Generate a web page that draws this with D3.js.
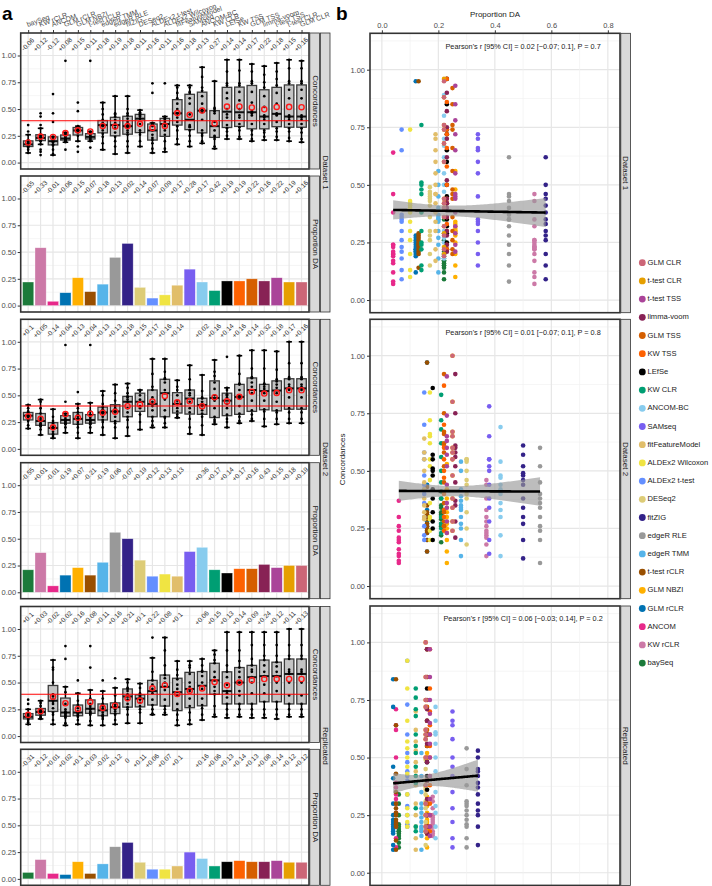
<!DOCTYPE html>
<html><head><meta charset="utf-8">
<script src="https://cdn.jsdelivr.net/npm/d3@7"></script>
<style>body{margin:0;background:#fff}</style>
</head><body><svg id="c" width="712" height="886"></svg>
<script>
const methods = ["baySeq","KW rCLR","ANCOM","GLM rCLR","GLM NBZI","t-test rCLR","edgeR TMM","edgeR RLE","fitZIG","DESeq2","ALDEx2 t-test","ALDEx2 Wilcoxon","fitFeatureModel","SAMseq","ANCOM-BC","KW CLR","LEfSe","KW TSS","GLM TSS","limma-voom","t-test TSS","t-test CLR","GLM CLR"];
const colors = ["#1b7a3a","#cc79a7","#e7298a","#0072b2","#ffb000","#994f00","#56b4e9","#999999","#332288","#ddcc77","#648fff","#f0e442","#e1be6a","#785ef0","#88ccee","#009e73","#000000","#fe6100","#d55e00","#882255","#aa4499","#e69f00","#cc6677"];
const datasets = ["Dataset 1","Dataset 2","Replicated"];

const propDA_ds1 = [0.22,0.54,0.04,0.12,0.26,0.13,0.20,0.45,0.58,0.17,0.07,0.10,0.19,0.34,0.22,0.14,0.23,0.23,0.25,0.23,0.26,0.22,0.22];
const propDA_ds2 = [0.21,0.37,0.06,0.16,0.23,0.16,0.28,0.56,0.50,0.30,0.15,0.17,0.15,0.38,0.42,0.21,0.18,0.22,0.22,0.26,0.23,0.25,0.25];
const propDA_rep = [0.06,0.18,0.05,0.04,0.16,0.05,0.14,0.30,0.34,0.155,0.09,0.09,0.12,0.25,0.19,0.12,0.16,0.17,0.16,0.16,0.17,0.155,0.155];

const conc_ds1 = [
[0.09,0.12,0.14,0.15,0.15,0.16,0.17,0.17,0.17,0.18,0.19,0.2,0.21,0.26,0.29,0.35],
[0.07,0.1,0.12,0.17,0.2,0.22,0.22,0.23,0.23,0.23,0.24,0.25,0.26,0.26,0.32,0.35,0.43,0.46],
[0.07,0.08,0.12,0.16,0.17,0.19,0.2,0.2,0.21,0.23,0.24,0.24,0.38,0.46,0.64],
[0.12,0.19,0.2,0.21,0.21,0.22,0.22,0.23,0.24,0.25,0.26,0.27,0.28,0.95],
[0.1,0.15,0.2,0.25,0.28,0.29,0.3,0.3,0.31,0.32,0.33,0.34,0.48,0.56],
[0.14,0.2,0.21,0.22,0.23,0.24,0.24,0.25,0.26,0.27,0.28,0.29,0.95],
[0.12,0.18,0.24,0.27,0.3,0.34,0.35,0.35,0.36,0.37,0.4,0.45,0.5,0.56],
[0.08,0.15,0.2,0.24,0.28,0.32,0.35,0.35,0.37,0.4,0.43,0.45,0.46,0.62],
[0.09,0.15,0.2,0.26,0.28,0.3,0.33,0.35,0.38,0.41,0.44,0.46,0.5,0.62],
[0.15,0.2,0.26,0.28,0.3,0.36,0.41,0.43,0.44,0.45,0.46,0.47,0.49],
[0.09,0.13,0.18,0.21,0.23,0.26,0.3,0.34,0.35,0.36,0.37,0.65,0.74],
[0.1,0.13,0.2,0.26,0.3,0.34,0.38,0.4,0.41,0.42,0.43,0.74],
[0.17,0.22,0.3,0.34,0.38,0.42,0.46,0.46,0.5,0.55,0.6,0.65,0.7,0.72],
[0.15,0.2,0.25,0.3,0.33,0.34,0.35,0.45,0.55,0.6,0.65,0.66,0.7,0.72],
[0.18,0.2,0.25,0.27,0.3,0.4,0.47,0.5,0.55,0.62,0.67,0.7,0.8,0.89],
[0.13,0.15,0.22,0.24,0.25,0.3,0.38,0.46,0.48,0.5,0.51,0.76],
[0.22,0.25,0.29,0.32,0.35,0.42,0.45,0.5,0.6,0.65,0.72,0.74,0.85,0.96],
[0.22,0.24,0.3,0.33,0.36,0.42,0.44,0.5,0.58,0.66,0.72,0.74,0.86,0.96],
[0.2,0.22,0.26,0.3,0.36,0.44,0.46,0.48,0.56,0.66,0.74,0.76,0.85,0.92],
[0.21,0.24,0.28,0.3,0.36,0.4,0.42,0.44,0.52,0.62,0.7,0.75,0.82,0.9],
[0.21,0.24,0.29,0.32,0.38,0.44,0.45,0.46,0.55,0.65,0.72,0.78,0.85,0.93],
[0.2,0.23,0.29,0.32,0.36,0.4,0.42,0.44,0.6,0.68,0.74,0.76,0.88,0.96],
[0.19,0.22,0.28,0.32,0.36,0.4,0.42,0.44,0.6,0.68,0.74,0.76,0.88,0.95]
];
const conc_ds2 = [
[0.19,0.22,0.26,0.27,0.29,0.3,0.31,0.31,0.32,0.34,0.35,0.38,0.41],
[0.13,0.18,0.21,0.22,0.23,0.24,0.26,0.28,0.3,0.33,0.38,0.44,0.46],
[0.1,0.11,0.13,0.14,0.16,0.19,0.2,0.21,0.24,0.26,0.3,0.37],
[0.15,0.2,0.23,0.24,0.25,0.26,0.27,0.28,0.3,0.31,0.33,0.44,0.97],
[0.1,0.15,0.2,0.23,0.25,0.27,0.28,0.3,0.32,0.34,0.38,0.42,0.53],
[0.15,0.2,0.23,0.24,0.25,0.26,0.27,0.29,0.31,0.32,0.35,0.43,0.97],
[0.13,0.2,0.25,0.27,0.3,0.33,0.34,0.35,0.37,0.39,0.42,0.5,0.54],
[0.1,0.2,0.24,0.26,0.3,0.34,0.36,0.38,0.4,0.45,0.52,0.6],
[0.12,0.2,0.27,0.3,0.34,0.38,0.44,0.46,0.48,0.49,0.52,0.57,0.61],
[0.18,0.25,0.32,0.38,0.4,0.44,0.46,0.5,0.54,0.55,0.55],
[0.2,0.22,0.26,0.3,0.36,0.4,0.42,0.44,0.48,0.55,0.58,0.7,0.84],
[0.2,0.24,0.29,0.3,0.36,0.46,0.52,0.55,0.62,0.65,0.66,0.72,0.84],
[0.29,0.3,0.32,0.35,0.38,0.42,0.45,0.5,0.55,0.58,0.64],
[0.14,0.2,0.28,0.34,0.38,0.44,0.5,0.52,0.55,0.55,0.65,0.78],
[0.13,0.22,0.3,0.33,0.36,0.4,0.42,0.44,0.47,0.48,0.54,0.69],
[0.23,0.25,0.27,0.3,0.38,0.45,0.5,0.56,0.62,0.68,0.72,0.83],
[0.2,0.25,0.28,0.32,0.38,0.42,0.48,0.5,0.51,0.55,0.57,0.86],
[0.24,0.26,0.3,0.33,0.4,0.47,0.5,0.55,0.6,0.61,0.7,0.87],
[0.26,0.28,0.32,0.36,0.45,0.52,0.58,0.62,0.66,0.67,0.75,0.92],
[0.21,0.28,0.35,0.37,0.45,0.52,0.56,0.58,0.6,0.61,0.75,0.92],
[0.23,0.28,0.34,0.36,0.44,0.52,0.57,0.6,0.63,0.65,0.74,0.91],
[0.24,0.28,0.34,0.38,0.48,0.55,0.58,0.6,0.65,0.67,0.8,1.0],
[0.24,0.28,0.34,0.38,0.48,0.55,0.58,0.6,0.65,0.67,0.8,1.0]
];
const conc_rep = [
[0.11,0.13,0.15,0.16,0.17,0.18,0.18,0.19,0.2,0.21,0.25,0.3,0.34],
[0.16,0.17,0.18,0.2,0.21,0.22,0.23,0.24,0.25,0.28,0.31,0.33],
[0.11,0.15,0.2,0.22,0.26,0.3,0.32,0.34,0.37,0.39,0.5,0.62,0.64,0.71],
[0.1,0.12,0.17,0.18,0.19,0.2,0.21,0.22,0.23,0.25,0.3,0.41,0.46,0.72,0.84],
[0.11,0.15,0.18,0.19,0.2,0.21,0.22,0.23,0.26,0.29,0.33,0.4,0.52],
[0.1,0.14,0.2,0.21,0.22,0.23,0.25,0.26,0.28,0.3,0.35,0.43,0.64,0.84],
[0.1,0.16,0.18,0.19,0.2,0.22,0.24,0.26,0.28,0.3,0.35,0.42,0.52],
[0.11,0.15,0.2,0.21,0.23,0.25,0.27,0.29,0.3,0.31,0.38,0.45,0.54],
[0.12,0.2,0.25,0.27,0.3,0.34,0.37,0.39,0.42,0.44,0.45,0.5,0.53],
[0.12,0.22,0.25,0.28,0.31,0.34,0.36,0.37,0.38,0.4,0.45,0.49],
[0.2,0.21,0.25,0.29,0.34,0.4,0.42,0.44,0.48,0.52,0.6,0.73,0.92],
[0.2,0.22,0.25,0.28,0.34,0.43,0.46,0.5,0.54,0.57,0.66,0.8,0.92],
[0.1,0.15,0.2,0.25,0.3,0.38,0.44,0.48,0.53,0.57,0.62,0.7],
[0.11,0.15,0.22,0.28,0.35,0.42,0.46,0.5,0.58,0.64,0.66,0.7],
[0.15,0.2,0.26,0.29,0.35,0.44,0.5,0.56,0.6,0.61,0.66,0.72],
[0.18,0.2,0.28,0.39,0.42,0.46,0.52,0.55,0.6,0.68,0.71,0.76,0.8],
[0.17,0.2,0.25,0.3,0.36,0.4,0.42,0.48,0.55,0.6,0.66,0.8,0.97],
[0.18,0.2,0.25,0.3,0.38,0.42,0.5,0.55,0.6,0.64,0.7,0.8,0.97],
[0.17,0.2,0.25,0.3,0.4,0.5,0.55,0.6,0.62,0.66,0.72,0.85,0.97],
[0.17,0.2,0.25,0.32,0.4,0.48,0.56,0.6,0.66,0.71,0.75,0.85,0.97],
[0.16,0.2,0.25,0.32,0.42,0.5,0.56,0.6,0.65,0.69,0.75,0.85,0.97],
[0.18,0.2,0.25,0.3,0.38,0.5,0.58,0.6,0.62,0.72,0.75,0.85,1.0],
[0.18,0.2,0.25,0.3,0.38,0.5,0.58,0.6,0.62,0.72,0.75,0.85,1.0]
];

const corrConc_ds1 = ["-0.06","+0.12","-0.12","+0.08","+0.15","+0.11","+0.18","+0.19","+0.18","+0.11","+0.16","+0.11","+0.16","+0.18","+0.13","-0.27","+0.14","+0.14","+0.17","+0.22","+0.18","+0.15","+0.16"];
const corrProp_ds1 = ["-0.55","+0.33","-0.01","+0.06","+0.15","+0.07","+0.18","+0.13","+0.02","+0.14","+0.07","+0.09","+0.17","+0.28","+0.17","-0.42","+0.19","+0.19","+0.22","+0.16","+0.22","+0.19","+0.16"];
const corrConc_ds2 = ["+0.1","+0.05","-0.14","+0.04","+0.13","+0.04","+0.13","+0.13","+0.18","+0.15","+0.17","+0.16","+0.14","","+0.02","+0.16","+0.14","+0.16","+0.14","+0.32","+0.18","+0.17","+0.16"];
const corrProp_ds2 = ["-0.55","+0.01","-0.01","-0.19","+0.07","-0.21","-0.19","-0.06","-0.07","+0.19","+0.12","+0.13","+0.13","","+0.36","+0.17","+0.14","+0.17","+0.16","-0.43","+0.15","+0.18","+0.19"];
const corrConc_rep = ["+0.1","+0.03","-0.02","+0.02","+0.16","+0.08","+0.11","+0.16","+0.21","+0.1","+0.22","+0.08","+0.1","","+0.06","+0.15","+0.13","+0.14","+0.09","+0.24","+0.12","+0.11","+0.13"];
const corrProp_rep = ["-0.31","+0.12","+0.01","+0.02","+0.1","+0.03","-0.02","+0.12","0","+0.11","+0.06","+0.07","+0.1","","+0.16","+0.06","+0.13","+0.14","+0.13","+0.08","+0.14","+0.12","+0.12"];

const refLine = [0.39, 0.40, 0.39];
const pearsonText = ["Pearson's r [95% CI] = 0.02 [\u22120.07; 0.1], P = 0.7","Pearson's r [95% CI] = 0.01 [\u22120.07; 0.1], P = 0.8","Pearson's r [95% CI] = 0.06 [\u22120.03; 0.14], P = 0.2"];
const yTicks = [0, 0.25, 0.5, 0.75, 1];
const yMinor = [0.125, 0.375, 0.625, 0.875, 1.125];
const xTicksB = [0, 0.2, 0.4, 0.6, 0.8];
const xMinorB = [0.1, 0.3, 0.5, 0.7];

const props = [propDA_ds1, propDA_ds2, propDA_rep];
const concs = [conc_ds1, conc_ds2, conc_rep];
const corrC = [corrConc_ds1, corrConc_ds2, corrConc_rep];
const corrP = [corrProp_ds1, corrProp_ds2, corrProp_rep];

const FONT = "'Liberation Sans', Arial, Helvetica, sans-serif";
const svg = d3.select("#c").style("font-family", FONT);
const colorOf = d3.scaleOrdinal().domain(methods).range(colors);

// ---------- panel a ----------
const aLeft = 20.7, aRight = 309, aH = 136;
const ax = d3.scalePoint().domain(methods).range([aLeft + 0.6*12.43, aRight - 0.6*12.43]);
const step = ax.step();
const concTops = [33, 319.3, 606.5];
const propTops = [176, 462.7, 749.3];

function styleAxis(g){
  g.select(".domain").remove();
  g.selectAll(".tick line").attr("stroke","#333").attr("stroke-width",1);
  g.selectAll(".tick text").attr("fill","#4d4d4d").style("font-size","7.5px").style("font-family",FONT);
}

function panelA(top, kind, d){
  const y = d3.scaleLinear().domain([-0.06, 1.21]).range([top + aH, top]);
  const g = svg.append("g");
  g.append("rect").attr("x",aLeft).attr("y",top).attr("width",aRight-aLeft).attr("height",aH).attr("fill","#fff");
  g.selectAll(".hm").data(yMinor).join("line").attr("x1",aLeft).attr("x2",aRight)
    .attr("y1",v=>y(v)).attr("y2",v=>y(v)).attr("stroke","#f0f0f0").attr("stroke-width",0.7);
  g.selectAll(".hM").data(yTicks).join("line").attr("x1",aLeft).attr("x2",aRight)
    .attr("y1",v=>y(v)).attr("y2",v=>y(v)).attr("stroke","#e6e6e6").attr("stroke-width",1.2);
  g.selectAll(".vM").data(methods).join("line").attr("x1",m=>ax(m)).attr("x2",m=>ax(m))
    .attr("y1",top).attr("y2",top+aH).attr("stroke","#e6e6e6").attr("stroke-width",1.2);

  if(kind === "conc"){
    const data = concs[d];
    methods.forEach((m,i)=>{
      const v = data[i].slice().sort(d3.ascending);
      const q1 = d3.quantile(v,0.25), med = d3.quantile(v,0.5), q3 = d3.quantile(v,0.75);
      const iqr = q3 - q1;
      const lo = d3.min(v.filter(t=>t >= q1 - 1.5*iqr));
      const hi = d3.max(v.filter(t=>t <= q3 + 1.5*iqr));
      const cx = ax(m), bw = 9.5;
      g.append("line").attr("x1",cx).attr("x2",cx).attr("y1",y(hi)).attr("y2",y(q3)).attr("stroke","#000").attr("stroke-width",1.5);
      g.append("line").attr("x1",cx).attr("x2",cx).attr("y1",y(q1)).attr("y2",y(lo)).attr("stroke","#000").attr("stroke-width",1.5);
      [lo,hi].forEach(t=>g.append("line").attr("x1",cx-2.8).attr("x2",cx+2.8).attr("y1",y(t)).attr("y2",y(t)).attr("stroke","#000").attr("stroke-width",1.6));
      g.append("rect").attr("x",cx-bw/2).attr("y",y(q3)).attr("width",bw).attr("height",Math.max(0.5,y(q1)-y(q3)))
        .attr("fill","#c4c4c4").attr("stroke","#3a3a3a").attr("stroke-width",1.3);
      g.append("line").attr("x1",cx-bw/2).attr("x2",cx+bw/2).attr("y1",y(med)).attr("y2",y(med)).attr("stroke","#111").attr("stroke-width",2);
      g.selectAll(null).data(v).join("circle").attr("cx",cx).attr("cy",t=>y(t)).attr("r",1.35).attr("fill","#000");
    });
    g.append("line").attr("x1",aLeft).attr("x2",aRight).attr("y1",y(refLine[d])).attr("y2",y(refLine[d])).attr("stroke","#ff0000").attr("stroke-width",1.1);
    methods.forEach((m,i)=>{
      g.append("circle").attr("cx",ax(m)).attr("cy",y(d3.mean(data[i]))).attr("r",2.6)
        .attr("fill","none").attr("stroke","#ff1a1a").attr("stroke-width",1.4);
    });
  } else {
    const p = props[d];
    g.selectAll(".bar").data(methods).join("rect")
      .attr("x",m=>ax(m)-step*0.45).attr("width",step*0.9)
      .attr("y",(m,i)=>y(p[i])).attr("height",(m,i)=>y(0)-y(p[i]))
      .attr("fill",m=>colorOf(m)).attr("stroke","#ffffff").attr("stroke-opacity",0.55).attr("stroke-width",0.6);
  }
  const labs = kind === "conc" ? corrC[d] : corrP[d];
  g.selectAll(".cl").data(methods).join("text")
    .attr("transform",(m)=>`translate(${ax(m)},${y(1.1)}) rotate(-45)`)
    .attr("text-anchor","middle").attr("dominant-baseline","middle")
    .style("font-size","6.6px").attr("fill","#333").text((m,i)=>labs[i]);
  g.append("rect").attr("x",aLeft).attr("y",top).attr("width",aRight-aLeft).attr("height",aH)
    .attr("fill","none").attr("stroke","#333").attr("stroke-width",1.6);
  const ya = g.append("g").attr("transform",`translate(${aLeft},0)`)
    .call(d3.axisLeft(y).tickValues(yTicks).tickFormat(d3.format(".2f")).tickSize(3).tickPadding(1.5));
  styleAxis(ya);
  // inner strip
  g.append("rect").attr("x",aRight+0.8).attr("y",top).attr("width",9.8).attr("height",aH)
    .attr("fill","#d9d9d9").attr("stroke","#333").attr("stroke-width",0.8);
  g.append("text").attr("transform",`translate(${aRight+5.7},${top+aH/2}) rotate(90)`)
    .attr("text-anchor","middle").attr("dominant-baseline","middle").style("font-size","8px").attr("fill","#1a1a1a")
    .text(kind === "conc" ? "Concordances" : "Proportion DA");
  return y;
}

datasets.forEach((ds,d)=>{
  panelA(concTops[d],"conc",d);
  panelA(propTops[d],"prop",d);
  const t = concTops[d], b = propTops[d] + aH;
  svg.append("rect").attr("x",aRight+11.5).attr("y",t).attr("width",9.5).attr("height",b-t)
    .attr("fill","#d9d9d9").attr("stroke","#333").attr("stroke-width",0.8);
  svg.append("text").attr("transform",`translate(${aRight+16.3},${(t+b)/2}) rotate(90)`)
    .attr("text-anchor","middle").attr("dominant-baseline","middle").style("font-size","8px").attr("fill","#1a1a1a").text(ds);
});

// top method axis
const topAx = svg.append("g").attr("transform",`translate(0,${concTops[0]})`)
  .call(d3.axisTop(ax).tickSize(3));
topAx.select(".domain").remove();
topAx.selectAll(".tick line").attr("stroke","#333");
topAx.selectAll(".tick text").attr("fill","#4d4d4d").style("font-size","7px").style("font-family",FONT)
  .attr("text-anchor","start").attr("x",0).attr("y",0).attr("dy",0)
  .attr("transform","translate(-1,-6) rotate(-20)");

svg.append("text").attr("x",2).attr("y",20).style("font-size","19px").style("font-weight","bold").attr("fill","#000").text("a");

// ---------- panel b ----------
const bL = 370, bR = 620, bH = 279.4;
const bTops = [33.3, 319.3, 606];
const bx = d3.scaleLinear().domain([-0.042, 0.843]).range([bL, bR]);

datasets.forEach((ds,d)=>{
  const top = bTops[d];
  const y = d3.scaleLinear().domain([-0.055, 1.158]).range([top + bH, top]);
  const g = svg.append("g");
  g.append("rect").attr("x",bL).attr("y",top).attr("width",bR-bL).attr("height",bH).attr("fill","#fff");
  g.selectAll(".hm").data(yMinor).join("line").attr("x1",bL).attr("x2",bR).attr("y1",v=>y(v)).attr("y2",v=>y(v)).attr("stroke","#f0f0f0").attr("stroke-width",0.7);
  g.selectAll(".hM").data(yTicks).join("line").attr("x1",bL).attr("x2",bR).attr("y1",v=>y(v)).attr("y2",v=>y(v)).attr("stroke","#e6e6e6").attr("stroke-width",1.2);
  g.selectAll(".vm").data(xMinorB).join("line").attr("x1",v=>bx(v)).attr("x2",v=>bx(v)).attr("y1",top).attr("y2",top+bH).attr("stroke","#f0f0f0").attr("stroke-width",0.7);
  g.selectAll(".vM").data(xTicksB).join("line").attr("x1",v=>bx(v)).attr("x2",v=>bx(v)).attr("y1",top).attr("y2",top+bH).attr("stroke","#e6e6e6").attr("stroke-width",1.2);

  const pts = [];
  methods.forEach((m,i)=>concs[d][i].forEach(v=>pts.push({m, x: props[d][i], y: v})));
  g.selectAll(".pt").data(pts).join("circle").attr("cx",p=>bx(p.x)).attr("cy",p=>y(p.y)).attr("r",2.3).attr("fill",p=>colorOf(p.m));

  // linear regression with 95% CI band
  const n = pts.length, mx = d3.mean(pts,p=>p.x), my = d3.mean(pts,p=>p.y);
  const sxx = d3.sum(pts,p=>(p.x-mx)**2), sxy = d3.sum(pts,p=>(p.x-mx)*(p.y-my));
  const slope = sxy/sxx, icpt = my - slope*mx;
  const s = Math.sqrt(d3.sum(pts,p=>(p.y-(icpt+slope*p.x))**2)/(n-2));
  const xs = d3.range(0,81).map(k=>d3.min(pts,p=>p.x) + k*(d3.max(pts,p=>p.x)-d3.min(pts,p=>p.x))/80);
  const band = xs.map(x=>{const f = icpt+slope*x, se = s*Math.sqrt(1/n + (x-mx)**2/sxx); return {x, lo:f-1.97*se, hi:f+1.97*se, f};});
  g.append("path").datum(band).attr("d",d3.area().x(b=>bx(b.x)).y0(b=>y(b.lo)).y1(b=>y(b.hi))).attr("fill","#999").attr("fill-opacity",0.65);
  g.append("path").datum(band).attr("d",d3.line().x(b=>bx(b.x)).y(b=>y(b.f))).attr("fill","none").attr("stroke","#000").attr("stroke-width",2.6);

  g.append("text").attr("x",bx(0.5)).attr("y",y(1.1)).attr("text-anchor","middle").attr("dominant-baseline","middle")
    .style("font-size","7.3px").attr("fill","#1a1a1a").text(pearsonText[d]);
  g.append("rect").attr("x",bL).attr("y",top).attr("width",bR-bL).attr("height",bH).attr("fill","none").attr("stroke","#333").attr("stroke-width",1.6);
  const ya = g.append("g").attr("transform",`translate(${bL},0)`)
    .call(d3.axisLeft(y).tickValues(yTicks).tickFormat(d3.format(".2f")).tickSize(3).tickPadding(2));
  styleAxis(ya);
  g.append("rect").attr("x",bR+0.8).attr("y",top).attr("width",9.6).attr("height",bH).attr("fill","#d9d9d9").attr("stroke","#333").attr("stroke-width",0.8);
  g.append("text").attr("transform",`translate(${bR+5.6},${top+bH/2}) rotate(90)`)
    .attr("text-anchor","middle").attr("dominant-baseline","middle").style("font-size","8px").attr("fill","#1a1a1a").text(ds);
});

const bxa = svg.append("g").attr("transform",`translate(0,${bTops[0]})`)
  .call(d3.axisTop(bx).tickValues(xTicksB).tickFormat(d3.format(".1f")).tickSize(3).tickPadding(2));
styleAxis(bxa);
svg.append("text").attr("x",(bL+bR)/2).attr("y",17).attr("text-anchor","middle").style("font-size","8px").attr("fill","#1a1a1a").text("Proportion DA");
svg.append("text").attr("transform",`translate(343,${(bTops[0]+bTops[2]+bH)/2}) rotate(-90)`).attr("text-anchor","middle")
  .attr("dominant-baseline","middle").style("font-size","8px").attr("fill","#1a1a1a").text("Concordances");
svg.append("text").attr("x",336).attr("y",20).style("font-size","19px").style("font-weight","bold").attr("fill","#000").text("b");

// legend (reverse order)
const legendItems = methods.slice().reverse();
const lg = svg.append("g");
lg.selectAll("circle").data(legendItems).join("circle").attr("cx",642.3).attr("cy",(m,i)=>262.7+i*18.2).attr("r",3.4).attr("fill",m=>colorOf(m));
lg.selectAll("text").data(legendItems).join("text").attr("x",647.5).attr("y",(m,i)=>262.7+i*18.2).attr("dominant-baseline","middle")
  .style("font-size","7.6px").attr("fill","#1a1a1a").text(m=>m);
</script>
</body></html>
